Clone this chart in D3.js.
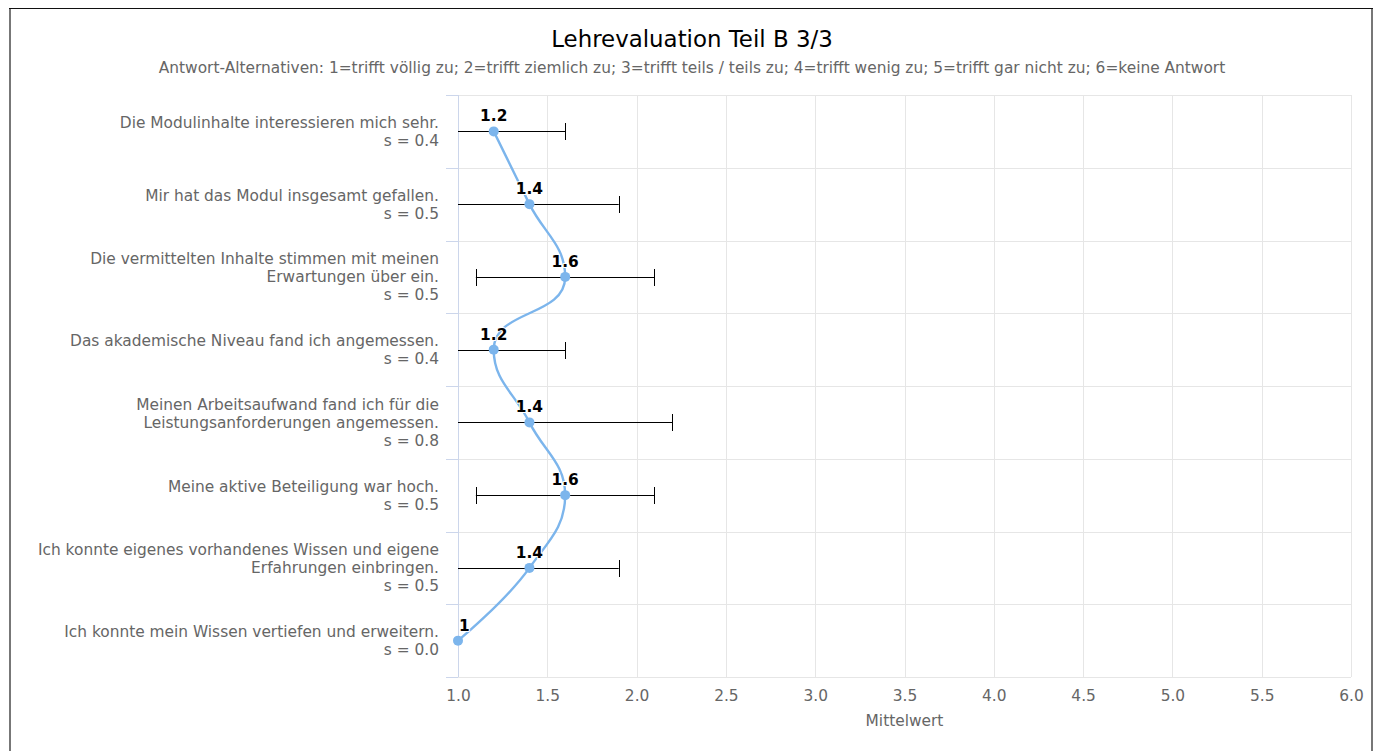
<!DOCTYPE html>
<html>
<head>
<meta charset="utf-8">
<script src="https://cdn.jsdelivr.net/npm/d3@7"></script>
<style>
html, body { margin: 0; padding: 0; background: #fff; }
svg { display: block; font-family: "DejaVu Sans", sans-serif; }
</style>
</head>
<body>
<svg id="chart" width="1378" height="751"></svg>
<script>
const titleText = "Lehrevaluation Teil B 3/3";
const subtitleText = "Antwort-Alternativen: 1=trifft völlig zu; 2=trifft ziemlich zu; 3=trifft teils / teils zu; 4=trifft wenig zu; 5=trifft gar nicht zu; 6=keine Antwort";
const categories = [
  ["Die Modulinhalte interessieren mich sehr."],
  ["Mir hat das Modul insgesamt gefallen."],
  ["Die vermittelten Inhalte stimmen mit meinen", "Erwartungen über ein."],
  ["Das akademische Niveau fand ich angemessen."],
  ["Meinen Arbeitsaufwand fand ich für die", "Leistungsanforderungen angemessen."],
  ["Meine aktive Beteiligung war hoch."],
  ["Ich konnte eigenes vorhandenes Wissen und eigene", "Erfahrungen einbringen."],
  ["Ich konnte mein Wissen vertiefen und erweitern."]
];
const means = [1.2, 1.4, 1.6, 1.2, 1.4, 1.6, 1.4, 1];
const meanLabels = ["1.2", "1.4", "1.6", "1.2", "1.4", "1.6", "1.4", "1"];
const stdDevs = [0.4, 0.5, 0.5, 0.4, 0.8, 0.5, 0.5, 0.0];
const xTicks = [1.0, 1.5, 2.0, 2.5, 3.0, 3.5, 4.0, 4.5, 5.0, 5.5, 6.0];
const xAxisTitle = "Mittelwert";

const svg = d3.select("#chart");
const W = 1378, H = 751;
const plot = { left: 458, right: 1351, top: 95, bottom: 677 };
const fs = 15.4;

// frame
svg.append("line").attr("x1", 10).attr("x2", 10).attr("y1", 8).attr("y2", H).attr("stroke", "#777").attr("stroke-width", 2);
svg.append("line").attr("x1", 1372).attr("x2", 1372).attr("y1", 8).attr("y2", H).attr("stroke", "#777").attr("stroke-width", 2);
svg.append("line").attr("x1", 9).attr("x2", 1373).attr("y1", 8.5).attr("y2", 8.5).attr("stroke", "#111").attr("stroke-width", 1);

// title
svg.append("text").attr("x", 692).attr("y", 47).attr("text-anchor", "middle")
  .attr("font-size", 22.9).attr("fill", "#000").text(titleText);
svg.append("text").attr("x", 692).attr("y", 73).attr("text-anchor", "middle")
  .attr("font-size", fs).attr("fill", "#666").text(subtitleText);

const x = d3.scaleLinear().domain([1, 6]).range([plot.left, plot.right]);
const y = d3.scaleBand().domain(d3.range(categories.length)).range([plot.top, plot.bottom]).padding(0);
const cy = i => y(i) + y.bandwidth() / 2;

// vertical grid
svg.append("g").selectAll("line").data(xTicks).join("line")
  .attr("x1", d => Math.round(x(d)) + 0.5).attr("x2", d => Math.round(x(d)) + 0.5)
  .attr("y1", plot.top).attr("y2", plot.bottom)
  .attr("stroke", "#e6e6e6").attr("stroke-width", 1);

// horizontal grid at category boundaries
const bounds = d3.range(categories.length + 1).map(i => i === categories.length ? plot.bottom : y(i));
svg.append("g").selectAll("line").data(bounds).join("line")
  .attr("x1", plot.left).attr("x2", plot.right)
  .attr("y1", d => Math.round(d) + 0.5).attr("y2", d => Math.round(d) + 0.5)
  .attr("stroke", "#e6e6e6").attr("stroke-width", 1);
// category ticks
svg.append("g").selectAll("line").data(bounds).join("line")
  .attr("x1", plot.left - 12).attr("x2", plot.left)
  .attr("y1", d => Math.round(d) + 0.5).attr("y2", d => Math.round(d) + 0.5)
  .attr("stroke", "#ccd6eb").attr("stroke-width", 1);
// category axis line
svg.append("line").attr("x1", plot.left + 0.5).attr("x2", plot.left + 0.5)
  .attr("y1", plot.top).attr("y2", plot.bottom).attr("stroke", "#ccd6eb").attr("stroke-width", 1);

// x axis labels
const xAxis = d3.axisBottom(x).tickValues(xTicks).tickFormat(d3.format(".1f")).tickSize(0).tickPadding(0);
const gx = svg.append("g").attr("transform", `translate(0,${plot.bottom})`).call(xAxis);
gx.select(".domain").remove();
gx.selectAll("text").attr("font-size", fs).attr("fill", "#666").attr("font-family", "DejaVu Sans")
  .attr("dy", null).attr("y", 23.5);
svg.append("text").attr("x", (plot.left + plot.right) / 2).attr("y", 725.5).attr("text-anchor", "middle")
  .attr("font-size", fs).attr("fill", "#666").text(xAxisTitle);

// category labels
const lineH = 18;
categories.forEach((lines, i) => {
  const all = lines.concat(["s = " + stdDevs[i].toFixed(1)]);
  const n = all.length;
  const t = svg.append("text").attr("text-anchor", "end").attr("font-size", fs).attr("fill", "#666");
  all.forEach((s, k) => {
    t.append("tspan").attr("x", 439).attr("y", cy(i) + (k - (n - 1) / 2) * lineH + 5.5).text(s);
  });
});

// clip
svg.append("clipPath").attr("id", "clip").append("rect")
  .attr("x", plot.left).attr("y", plot.top - 20).attr("width", plot.right - plot.left).attr("height", plot.bottom - plot.top + 40);

// error bars
const eb = svg.append("g").attr("clip-path", "url(#clip)");
const capH = 17;
means.forEach((m, i) => {
  const lo = m - stdDevs[i], hi = m + stdDevs[i];
  if (stdDevs[i] === 0) return;
  const yy = Math.round(cy(i)) + 0.5;
  eb.append("line").attr("x1", x(lo)).attr("x2", x(hi)).attr("y1", yy).attr("y2", yy)
    .attr("stroke", "#000").attr("stroke-width", 1);
  [lo, hi].forEach(v => {
    eb.append("line").attr("x1", Math.round(x(v)) + 0.5).attr("x2", Math.round(x(v)) + 0.5)
      .attr("y1", yy - capH / 2).attr("y2", yy + capH / 2).attr("stroke", "#000").attr("stroke-width", 1);
  });
});

// Highcharts-like spline (a = category axis (screen y), b = value axis (screen x))
const pts = means.map((m, i) => ({ a: cy(i), b: x(m) }));
function splinePath(points) {
  const smoothing = 1.5, denom = smoothing + 1;
  let d = `M${points[0].b},${points[0].a}`;
  for (let i = 0; i < points.length; i++) {
    const p = points[i];
    const last = points[i - 1], next = points[i + 1];
    let lcA, lcB, rcA, rcB;
    if (last && next) {
      lcA = (smoothing * p.a + last.a) / denom;
      lcB = (smoothing * p.b + last.b) / denom;
      rcA = (smoothing * p.a + next.a) / denom;
      rcB = (smoothing * p.b + next.b) / denom;
      const dL = Math.hypot(lcA - p.a, lcB - p.b);
      const dR = Math.hypot(rcA - p.a, rcB - p.b);
      const lAng = Math.atan2(lcB - p.b, lcA - p.a);
      const rAng = Math.atan2(rcB - p.b, rcA - p.a);
      let j = Math.PI / 2 + (lAng + rAng) / 2;
      if (Math.abs(lAng - j) > Math.PI / 2) j -= Math.PI;
      lcA = p.a + Math.cos(j) * dL;
      lcB = p.b + Math.sin(j) * dL;
      rcA = p.a + Math.cos(Math.PI + j) * dR;
      rcB = p.b + Math.sin(Math.PI + j) * dR;
      if (lcB > p.b && lcB > last.b) { lcB = Math.max(last.b, p.b); rcB = 2 * p.b - lcB; }
      else if (lcB < p.b && lcB < last.b) { lcB = Math.min(last.b, p.b); rcB = 2 * p.b - lcB; }
      if (rcB > p.b && rcB > next.b) { rcB = Math.max(next.b, p.b); lcB = 2 * p.b - rcB; }
      else if (rcB < p.b && rcB < next.b) { rcB = Math.min(next.b, p.b); lcB = 2 * p.b - rcB; }
      p.rcA = rcA; p.rcB = rcB;
    }
    if (i > 0) {
      const c1a = last.rcA !== undefined ? last.rcA : last.a;
      const c1b = last.rcB !== undefined ? last.rcB : last.b;
      const c2a = lcA !== undefined ? lcA : p.a;
      const c2b = lcB !== undefined ? lcB : p.b;
      d += `C${c1b},${c1a} ${c2b},${c2a} ${p.b},${p.a}`;
    }
  }
  return d;
}
svg.append("path").attr("d", splinePath(pts)).attr("fill", "none")
  .attr("stroke", "#7cb5ec").attr("stroke-width", 2.4).attr("stroke-linejoin", "round").attr("stroke-linecap", "round");

// markers
svg.append("g").selectAll("circle").data(means).join("circle")
  .attr("cx", d => x(d)).attr("cy", (d, i) => cy(i)).attr("r", 5).attr("fill", "#7cb5ec");

// data labels
svg.append("g").selectAll("text").data(means).join("text")
  .attr("x", d => x(d)).attr("y", (d, i) => cy(i) - 10)
  .attr("text-anchor", "middle").attr("font-size", fs).attr("font-weight", "bold")
  .attr("fill", "#000").attr("stroke", "#fff").attr("stroke-width", 2).attr("paint-order", "stroke")
  .attr("stroke-linejoin", "round")
  .text((d, i) => meanLabels[i])
  .each(function (d) {
    const w = this.getComputedTextLength();
    const cxv = x(d);
    if (cxv - w / 2 < plot.left + 1) d3.select(this).attr("x", plot.left + 1 + w / 2);
  });
</script>
</body>
</html>
